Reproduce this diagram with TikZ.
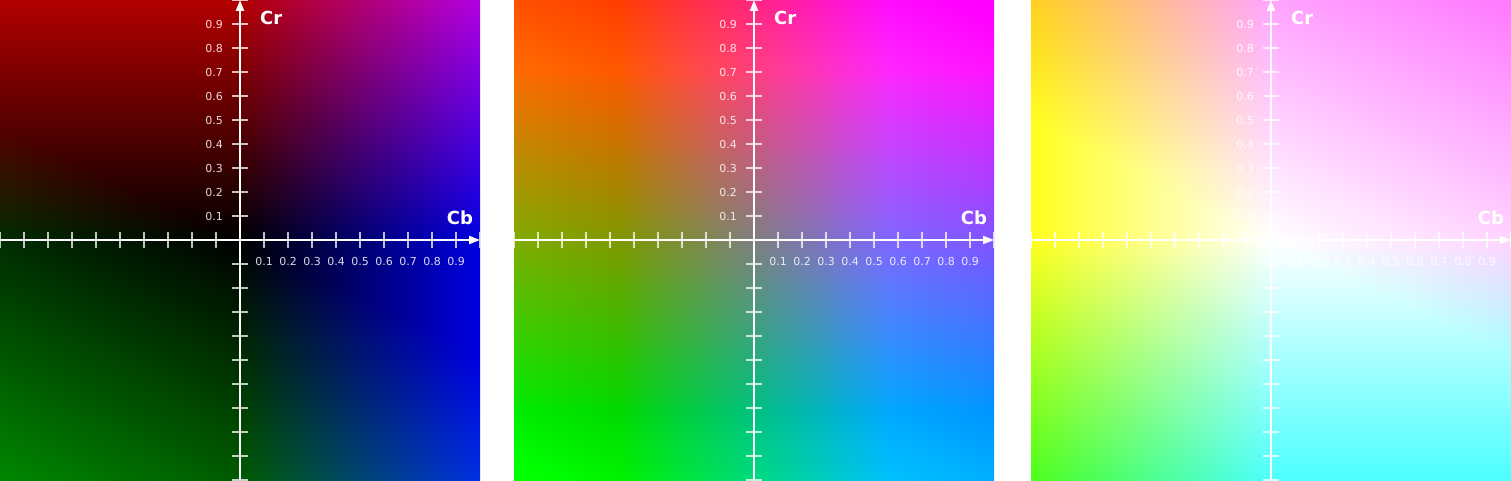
\documentclass[tikz,border=0pt]{standalone}
\usepackage{fontspec}
\setmainfont{DejaVu Sans}
\usetikzlibrary{arrows.meta}
% YCbCr -> RGB, input x y, Cb=x/50, Cr=y/50 over the shaded square
\pgfdeclarefunctionalshading{yccA}{\pgfpoint{-50bp}{-50bp}}{\pgfpoint{50bp}{50bp}}{}{
50 div exch 50 div exch
dup 1.402 mul 0 add
3 1 roll
2 copy
0.714136 mul exch 0.344136 mul add 0 exch sub
exch pop exch
1.772 mul 0 add
}
\pgfdeclarefunctionalshading{yccB}{\pgfpoint{-50bp}{-50bp}}{\pgfpoint{50bp}{50bp}}{}{
50 div exch 50 div exch
dup 1.402 mul 0.5 add
3 1 roll
2 copy
0.714136 mul exch 0.344136 mul add 0.5 exch sub
exch pop exch
1.772 mul 0.5 add
}
\pgfdeclarefunctionalshading{yccC}{\pgfpoint{-50bp}{-50bp}}{\pgfpoint{50bp}{50bp}}{}{
50 div exch 50 div exch
dup 1.402 mul 1 add
3 1 roll
2 copy
0.714136 mul exch 0.344136 mul add 1 exch sub
exch pop exch
1.772 mul 1 add
}
\tikzset{
  axisline/.style={draw=white, line width=2pt, -{Triangle[length=11pt,width=8pt]}},
  tickline/.style={draw=white, draw opacity=0.75, line width=1.5pt},
  ticklabel/.style={text=white, text opacity=0.85, font=\fontsize{11}{13}\selectfont, inner sep=0pt},
  axislabel/.style={text=white, font=\fontsize{18}{20}\selectfont\bfseries, inner sep=0pt},
}
\begin{document}
\begin{tikzpicture}[x=1pt,y=1pt]
\useasboundingbox (0,0) rectangle (1511,480);
\fill[white] (0,0) rectangle (1511,480);
\foreach \ox/\sh/\p in {0/yccA/a, 514/yccB/b, 1031/yccC/c} {
  \begin{scope}[shift={(\ox,0)}]
    \shade[shading=\sh] (0,0) rectangle (480,480);
    \begin{scope}
      \clip (0,0) rectangle (480,480);
      \foreach \i in {0,...,9,11,12,...,20} {
        \draw[tickline] (24*\i,232) -- (24*\i,248);
        \draw[tickline] (232,24*\i) -- (248,24*\i);
      }
      \coordinate (\p-xl) at (0,240);
      \coordinate (\p-xr) at (480,240);
      \coordinate (\p-yb) at (240,0);
      \coordinate (\p-yt) at (240,480);
      \draw[axisline] (\p-xl) -- (\p-xr);
      \draw[axisline] (\p-yb) -- (\p-yt);
    \end{scope}
    \foreach \k in {1,...,9} {
      \node[ticklabel, anchor=east] (\p-vy\k) at (223,240+24*\k) {0.\k};
      \node[ticklabel] (\p-vx\k) at (240+24*\k,219) {0.\k};
    }
    \node[axislabel, anchor=west] (\p-cr) at (260,462) {Cr};
    \node[axislabel] (\p-cb) at (460,262) {Cb};
  \end{scope}
}
\end{tikzpicture}
\end{document}
